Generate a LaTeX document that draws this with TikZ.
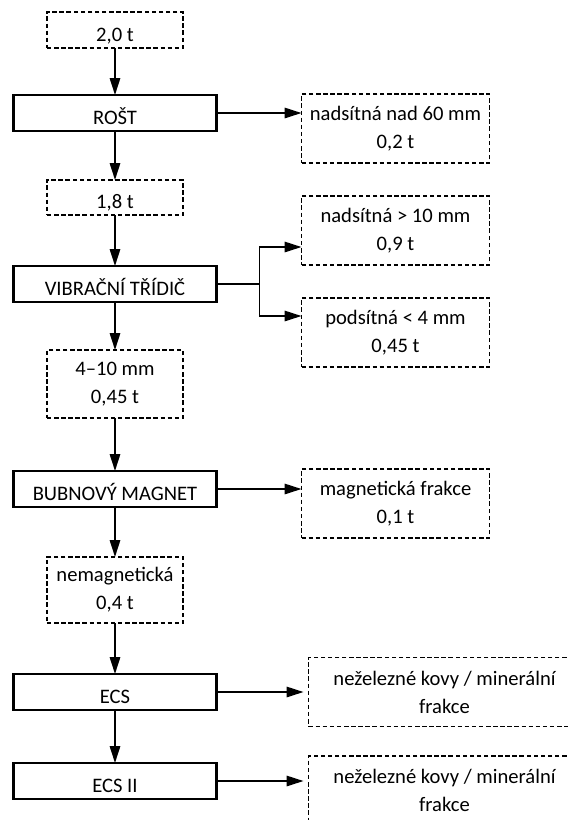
\documentclass[tikz,border=0pt]{standalone}
\usepackage{fontspec}
\setmainfont{Carlito}
\usepackage{xcolor}
\usepackage{tikz}
\usetikzlibrary{positioning,arrows.meta}
\definecolor{FlowInk}{HTML}{000000}
\tikzset{
    oneline/.style={text height=22pt, text depth=0pt},
    procbox/.style={
        draw=FlowInk,
        line width=2.2pt,
        outer sep=0pt,
        inner sep=0pt,
        minimum width=203pt,
        minimum height=36pt,
        oneline
    },
    massbox/.style={
        draw=FlowInk,
        line width=1.1pt,
        dash pattern=on 4.5pt off 2.6pt,
        outer sep=0pt,
        minimum width=136pt,
        minimum height=36pt,
        align=center
    },
    outbox/.style={massbox, minimum width=188pt, minimum height=69pt},
    flow/.style={draw=FlowInk, line width=1.6pt, -{Triangle[length=17pt,width=10.5pt]}}
}

\begin{document}
\begin{tikzpicture}[font=\fontsize{20.6}{28}\selectfont]
        \useasboundingbox (-115pt,30pt) rectangle (453pt,-790pt);
        \node[massbox, oneline, inner sep=0pt] (feed) at (0,0) {2,0 t};
        \node[procbox, below=47pt of feed] (grate) {ROŠT};
        \node[massbox, oneline, inner sep=0pt, minimum height=35pt, below=49pt of grate] (m18) {1,8 t};
        \node[procbox, below=51pt of m18] (screen) {VIBRAČNÍ TŘÍDIČ};
        \node[massbox, minimum height=68pt, below=48pt of screen] (m410) {4--10 mm\\0,45 t};
        \node[procbox, below=53pt of m410] (drum) {BUBNOVÝ MAGNET};
        \node[massbox, minimum height=66pt, below=50pt of drum] (nonmag) {nemagnetická\\0,4 t};
        \node[procbox, below=51pt of nonmag] (ecs) {ECS};
        \node[procbox, below=53pt of ecs] (ecs2) {ECS II};

        \node[outbox, right=85pt of grate.north east, anchor=north west, yshift=1pt] (over60) {nadsítná nad 60 mm\\0,2 t};
        \node[outbox, right=85pt of screen.north east, anchor=south west, yshift=1pt] (over10) {nadsítná > 10 mm\\0,9 t};
        \node[outbox, right=85pt of screen.south east, anchor=north west, yshift=4pt] (under4) {podsítná < 4 mm\\0,45 t};
        \node[outbox, right=85pt of drum.north east, anchor=north west, yshift=2pt] (magfr) {magnetická frakce\\0,1 t};
        \node[outbox, minimum width=272pt, right=92pt of ecs] (nfe1) {neželezné kovy / minerální\\frakce};
        \node[outbox, minimum width=272pt, right=92pt of ecs2.north east, anchor=north west, yshift=7pt] (nfe2) {neželezné kovy / minerální\\frakce};

        \draw[flow] (feed) -- (grate);
        \draw[flow] (grate) -- (m18);
        \draw[flow] (m18) -- (screen);
        \draw[flow] (screen) -- (m410);
        \draw[flow] (m410) -- (drum);
        \draw[flow] (drum) -- (nonmag);
        \draw[flow] (nonmag) -- (ecs);
        \draw[flow] (ecs) -- (ecs2);

        \draw[flow] (grate.east) -- (grate.east -| over60.west);
        \draw[flow] (screen.east) -- ++(43pt,0) coordinate (split) |- ([yshift=18pt]over10.south west);
        \draw[flow] (split) |- ([yshift=-18pt]under4.north west);
        \draw[flow] (drum.east) -- (drum.east -| magfr.west);
        \draw[flow, shorten >=5pt] (ecs.east) -- (ecs.east -| nfe1.west);
        \draw[flow, shorten >=5pt] (ecs2.east) -- (ecs2.east -| nfe2.west);
\end{tikzpicture}
\end{document}
